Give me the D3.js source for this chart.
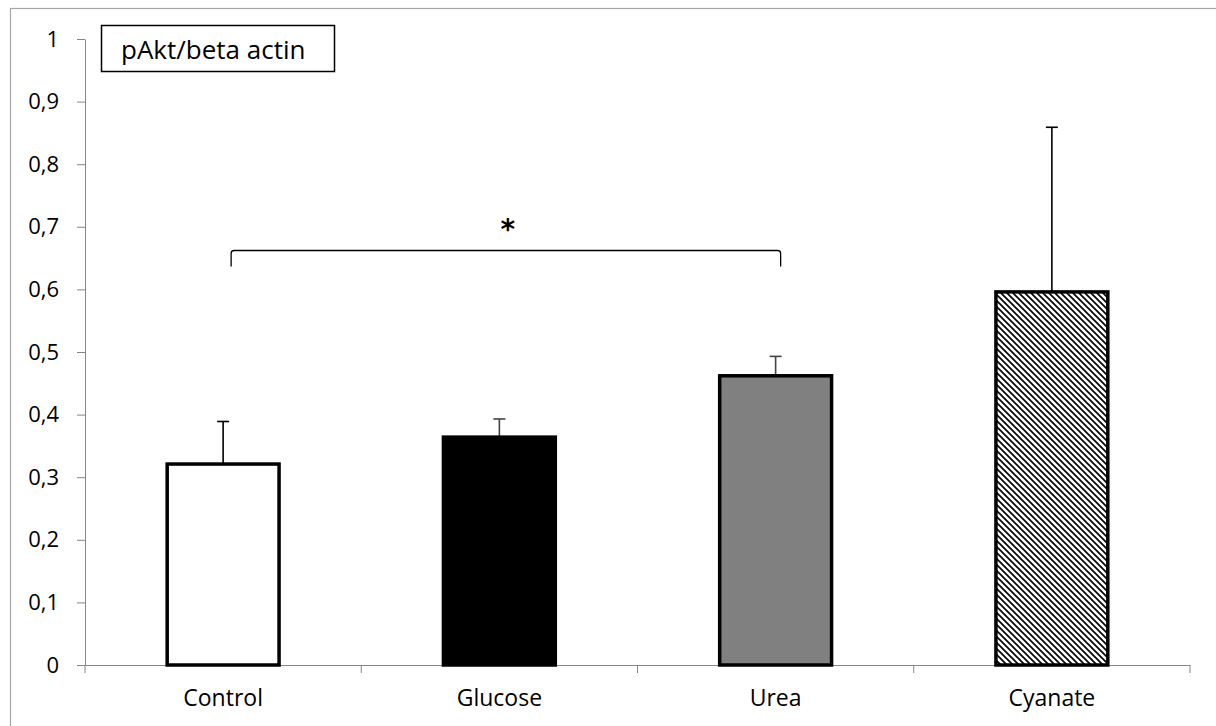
<!DOCTYPE html>
<html><head><meta charset="utf-8">
<script src="https://cdn.jsdelivr.net/npm/d3@7"></script>
<style>body{margin:0;background:#fff}</style>
</head><body>
<script>
const categories = ["Control", "Glucose", "Urea", "Cyanate"];
const values = [0.321, 0.364, 0.462, 0.596];
const errors = [0.068, 0.029, 0.031, 0.263];
const yTicks = [0, 0.1, 0.2, 0.3, 0.4, 0.5, 0.6, 0.7, 0.8, 0.9, 1];
const legendText = "pAkt/beta actin";
const sigPair = ["Control", "Urea"];
const sigLabel = "*";

const W = 1216, H = 726;
const font = "'Open Sans', Lato, sans-serif";
const svg = d3.select("body").append("svg").attr("width", W).attr("height", H);

const defs = svg.append("defs");
const pat = defs.append("pattern").attr("id", "hatch").attr("patternUnits", "userSpaceOnUse")
  .attr("width", 6).attr("height", 6);
pat.append("rect").attr("width", 6).attr("height", 6).attr("fill", "#fff");
pat.append("path").attr("d", "M-1,-1 L7,7 M-1,5 L1,7 M5,-1 L7,1")
  .attr("stroke", "#000").attr("stroke-width", 1.6);

// outer border (top & left visible)
svg.append("rect").attr("x", 10.5).attr("y", 8.5).attr("width", W + 20).attr("height", H + 20)
  .attr("fill", "none").attr("stroke", "#a6a6a6").attr("stroke-width", 1.2);

const x0 = 85, x1 = 1190, yTop = 39, yBot = 665;
const x = d3.scaleBand().domain(categories).range([x0, x1]).paddingInner(0.595).paddingOuter(0.2975);
const y = d3.scaleLinear().domain([0, 1]).range([yBot, yTop]);

// y axis
const yAxis = d3.axisLeft(y).tickValues(yTicks).tickSize(8).tickSizeOuter(0)
  .tickFormat(d => d3.format("")(d).replace(".", ","));
const gy = svg.append("g").attr("transform", `translate(${x0},0)`).call(yAxis);
gy.attr("font-size", null).attr("font-family", null);
gy.select(".domain").attr("stroke", "#868686");
gy.selectAll(".tick line").attr("stroke", "#868686");
gy.selectAll(".tick text").style("font-family", font).style("font-size", "22px").attr("fill", "#000").attr("x", -26);

// x axis
const gx = svg.append("g").attr("transform", `translate(0,${yBot})`)
  .call(d3.axisBottom(x).tickSize(0).tickSizeOuter(0));
gx.attr("font-size", null).attr("font-family", null);
gx.select(".domain").attr("stroke", "#868686");
gx.selectAll(".tick text").style("font-family", font).style("font-size", "23px").attr("fill", "#000").attr("y", 25).attr("dy", "0.71em");
// category boundary tick marks
const bounds = d3.range(categories.length + 1).map(i => x0 + i * (x1 - x0) / categories.length);
svg.append("g").selectAll("line").data(bounds).join("line")
  .attr("x1", d => d).attr("x2", d => d).attr("y1", yBot).attr("y2", yBot + 8)
  .attr("stroke", "#868686");

const fills = ["#fff", "#000", "#808080", "url(#hatch)"];
const errColor = ["#000", "#444", "#444", "#000"];

// error bars
const eg = svg.append("g");
categories.forEach((c, i) => {
  const cx = x(c) + x.bandwidth() / 2;
  eg.append("line").attr("x1", cx).attr("x2", cx).attr("y1", y(values[i])).attr("y2", y(values[i] + errors[i]))
    .attr("stroke", errColor[i]).attr("stroke-width", 1.6);
  eg.append("line").attr("x1", cx - 6).attr("x2", cx + 6).attr("y1", y(values[i] + errors[i])).attr("y2", y(values[i] + errors[i]))
    .attr("stroke", errColor[i]).attr("stroke-width", 1.6);
});

// bars
svg.append("g").selectAll("rect").data(categories).join("rect")
  .attr("x", d => x(d)).attr("width", x.bandwidth())
  .attr("y", (d, i) => y(values[i])).attr("height", (d, i) => yBot - y(values[i]))
  .attr("fill", (d, i) => fills[i]).attr("stroke", "#000").attr("stroke-width", 3.5);

// significance bracket
const bx1 = x(sigPair[0]) + x.bandwidth() / 2 + 8, bx2 = x(sigPair[1]) + x.bandwidth() / 2 + 5;
const by = 250.5, bDrop = 16, r = 3;
svg.append("path")
  .attr("d", `M${bx1},${by + bDrop} L${bx1},${by + r} Q${bx1},${by} ${bx1 + r},${by} L${bx2 - r},${by} Q${bx2},${by} ${bx2},${by + r} L${bx2},${by + bDrop}`)
  .attr("fill", "none").attr("stroke", "#000").attr("stroke-width", 1.3);
svg.append("text").attr("x", (bx1 + bx2) / 2 + 2).attr("y", 239).attr("text-anchor", "middle")
  .style("font-family", "'DejaVu Sans', sans-serif").style("font-weight", "bold").style("font-size", "28px").text(sigLabel);

// legend box
svg.append("rect").attr("x", 101.5).attr("y", 25.5).attr("width", 233).attr("height", 46)
  .attr("fill", "#fff").attr("stroke", "#000").attr("stroke-width", 1.5);
svg.append("text").attr("x", 121).attr("y", 59).style("font-family", font).style("font-size", "26px")
  .attr("fill", "#000").text(legendText);
</script>
</body></html>
